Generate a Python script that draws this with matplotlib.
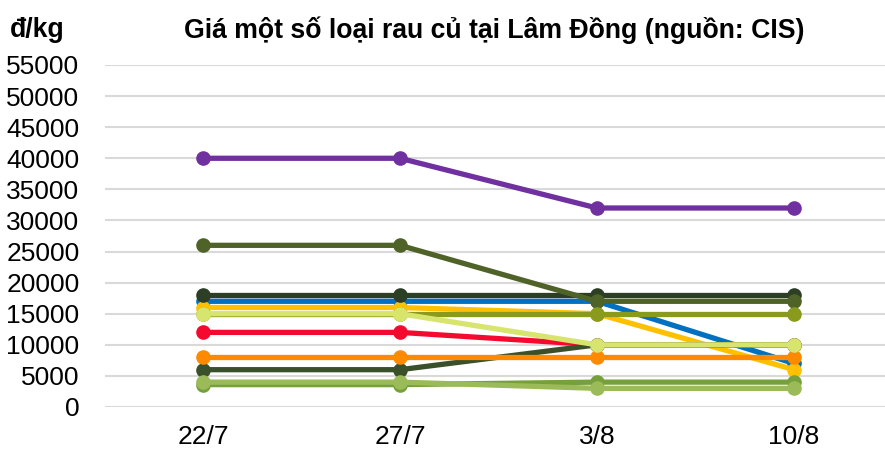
import matplotlib
matplotlib.use("Agg")
import matplotlib.pyplot as plt

plt.rcParams['font.family'] = ['Liberation Sans', 'DejaVu Sans']

dates = ["22/7", "27/7", "3/8", "10/8"]
yticks = list(range(0, 55001, 5000))

s_blue = [17000, 17000, 17000, 7000]
s_yellow = [16000, 16000, 15000, 6000]
s_darkest = [18000, 18000, 18000, 18000]
s_red = [12000, 12000, 10000, 10000]
s_purple = [40000, 40000, 32000, 32000]
s_darkgreen = [6000, 6000, 10000, 10000]
s_orange = [8000, 8000, 8000, 8000]
s_midgreen = [3600, 3600, 4000, 4000]
s_lightgreen = [4000, 4000, 3000, 3000]
s_olive_dark = [26000, 26000, 17000, 17000]
s_olive = [15000, 15000, 15000, 15000]
s_paleyellow = [15000, 15000, 10000, 10000]

series = [
    (s_blue, "#0070c0"),
    (s_yellow, "#ffc000"),
    (s_darkest, "#2c3e23"),
    (s_red, "#f50a2f"),
    (s_purple, "#7030a0"),
    (s_darkgreen, "#3a502b"),
    (s_orange, "#ff8a00"),
    (s_midgreen, "#76a03c"),
    (s_lightgreen, "#9bbb59"),
    (s_olive_dark, "#4f6228"),
    (s_olive, "#8a9a1c"),
    (s_paleyellow, "#d7e46e"),
]

fig = plt.figure(figsize=(8.85, 4.51), dpi=100)
ax = fig.add_axes([104.5 / 885, 44 / 451, 780.5 / 885, 342 / 451])
x = list(range(len(dates)))
for vals, col in series:
    ax.plot(x, vals, color=col, lw=3.8, marker='o', markersize=9.5,
            solid_capstyle='round', zorder=3)

ax.set_xlim(-0.5, 3.5 - 7.5 / 197)
ax.set_ylim(0, 55000)
ax.set_yticks(yticks)
ax.set_yticklabels([str(v) for v in yticks])
ax.set_xticks(x)
ax.set_xticklabels(dates)
ax.grid(axis='y', color='#d9d9d9', lw=1.5, zorder=0)
ax.set_axisbelow(True)
for sp in ax.spines.values():
    sp.set_visible(False)
ax.tick_params(axis='both', length=0, labelsize=19, colors='black')
ax.tick_params(axis='y', pad=18)
ax.tick_params(axis='x', pad=13)

fig.text(0.558, 0.933, "Giá một số loại rau củ tại Lâm Đồng (nguồn: CIS)",
         ha='center', va='center', fontsize=19.2, fontweight='bold')
fig.text(0.011, 0.933, "đ/kg", ha='left', va='center', fontsize=19.2,
         fontweight='bold')

fig.savefig("out.png", dpi=100)
